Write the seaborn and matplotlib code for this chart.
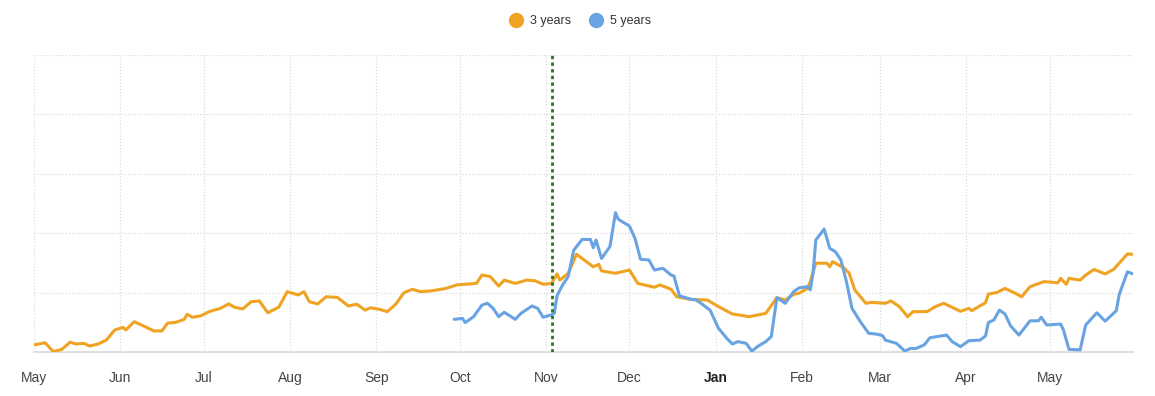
import pandas as pd
import matplotlib
matplotlib.use("Agg")
import matplotlib.pyplot as plt
import matplotlib.dates as mdates
from matplotlib.lines import Line2D
import seaborn as sns

# --- data ---
dates_3y = [
    "2022-05-01", "2022-05-05", "2022-05-08", "2022-05-11", "2022-05-14", "2022-05-16",
    "2022-05-19", "2022-05-21", "2022-05-24", "2022-05-27", "2022-05-30", "2022-06-02",
    "2022-06-03", "2022-06-06", "2022-06-10", "2022-06-13", "2022-06-16", "2022-06-18",
    "2022-06-21", "2022-06-24", "2022-06-25", "2022-06-27", "2022-06-30", "2022-07-03",
    "2022-07-07", "2022-07-10", "2022-07-12", "2022-07-15", "2022-07-18", "2022-07-21",
    "2022-07-24", "2022-07-28", "2022-07-31", "2022-08-04", "2022-08-06", "2022-08-08",
    "2022-08-11", "2022-08-14", "2022-08-18", "2022-08-22", "2022-08-25", "2022-08-28",
    "2022-08-30", "2022-09-02", "2022-09-05", "2022-09-08", "2022-09-11", "2022-09-14",
    "2022-09-17", "2022-09-21", "2022-09-26", "2022-09-30", "2022-10-03", "2022-10-07",
    "2022-10-09", "2022-10-12", "2022-10-15", "2022-10-17", "2022-10-21", "2022-10-25",
    "2022-10-28", "2022-10-31", "2022-11-03", "2022-11-05", "2022-11-06", "2022-11-09",
    "2022-11-12", "2022-11-18", "2022-11-20", "2022-11-21", "2022-11-26", "2022-12-01",
    "2022-12-04", "2022-12-10", "2022-12-12", "2022-12-16", "2022-12-18", "2022-12-23",
    "2022-12-29", "2023-01-02", "2023-01-07", "2023-01-13", "2023-01-19", "2023-01-23",
    "2023-01-26", "2023-01-29", "2023-01-31", "2023-02-03", "2023-02-04", "2023-02-06",
    "2023-02-10", "2023-02-11", "2023-02-12", "2023-02-16", "2023-02-18", "2023-02-20",
    "2023-02-24", "2023-02-26", "2023-03-03", "2023-03-05", "2023-03-08", "2023-03-11",
    "2023-03-13", "2023-03-18", "2023-03-21", "2023-03-24", "2023-03-30", "2023-04-02",
    "2023-04-03", "2023-04-08", "2023-04-09", "2023-04-12", "2023-04-15", "2023-04-18",
    "2023-04-21", "2023-04-24", "2023-04-29", "2023-05-04", "2023-05-05", "2023-05-07",
    "2023-05-08", "2023-05-12", "2023-05-14", "2023-05-17", "2023-05-21", "2023-05-24",
    "2023-05-26", "2023-05-29", "2023-05-31",
]
values_3y = [
    2.4, 3.1, 0.1, 0.9, 3.3, 2.7,
    2.9, 2.0, 2.7, 4.0, 7.4, 8.3,
    7.4, 10.2, 8.5, 7.1, 7.1, 9.7,
    10.0, 11.0, 12.7, 11.7, 12.2, 13.6,
    14.7, 16.2, 15.1, 14.5, 16.9, 17.2,
    13.2, 15.1, 20.3, 19.2, 20.3, 16.9,
    16.2, 18.6, 18.4, 15.5, 16.1, 14.1,
    14.9, 14.4, 13.6, 16.1, 20.0, 21.1,
    20.3, 20.6, 21.4, 22.6, 22.8, 23.1,
    25.9, 25.4, 22.2, 24.2, 23.1, 24.2,
    24.0, 22.8, 23.1, 26.3, 24.2, 26.5,
    32.9, 28.7, 29.5, 27.3, 26.5, 27.6,
    23.1, 21.8, 22.6, 21.1, 18.6, 17.7,
    17.5, 15.3, 12.8, 11.9, 13.0, 18.3,
    17.5, 19.4, 19.8, 21.4, 23.7, 29.9,
    29.9, 28.7, 30.4, 28.4, 26.5, 20.9,
    16.4, 16.7, 16.4, 17.2, 15.3, 11.9,
    13.6, 13.6, 15.3, 16.4, 13.7, 14.7,
    13.9, 16.6, 19.5, 20.0, 21.4, 20.1,
    18.6, 22.0, 23.7, 23.3, 24.8, 22.8,
    24.8, 24.2, 25.9, 27.8, 26.3, 27.8,
    29.9, 33.0, 32.9,
]

dates_5y = [
    "2022-09-29", "2022-10-02", "2022-10-03", "2022-10-06", "2022-10-09", "2022-10-11",
    "2022-10-13", "2022-10-15", "2022-10-17", "2022-10-21", "2022-10-23", "2022-10-27",
    "2022-10-29", "2022-10-31", "2022-11-03", "2022-11-04", "2022-11-05", "2022-11-07",
    "2022-11-09", "2022-11-11", "2022-11-14", "2022-11-17", "2022-11-18", "2022-11-19",
    "2022-11-21", "2022-11-24", "2022-11-26", "2022-11-27", "2022-12-01", "2022-12-03",
    "2022-12-05", "2022-12-08", "2022-12-10", "2022-12-13", "2022-12-16", "2022-12-17",
    "2022-12-19", "2022-12-23", "2022-12-25", "2022-12-27", "2022-12-30", "2023-01-02",
    "2023-01-05", "2023-01-07", "2023-01-09", "2023-01-12", "2023-01-14", "2023-01-16",
    "2023-01-19", "2023-01-21", "2023-01-23", "2023-01-26", "2023-01-29", "2023-01-31",
    "2023-02-03", "2023-02-04", "2023-02-05", "2023-02-06", "2023-02-09", "2023-02-11",
    "2023-02-13", "2023-02-15", "2023-02-17", "2023-02-19", "2023-02-22", "2023-02-25",
    "2023-02-28", "2023-03-02", "2023-03-03", "2023-03-07", "2023-03-10", "2023-03-12",
    "2023-03-14", "2023-03-17", "2023-03-19", "2023-03-25", "2023-03-27", "2023-03-30",
    "2023-04-02", "2023-04-06", "2023-04-08", "2023-04-09", "2023-04-11", "2023-04-13",
    "2023-04-15", "2023-04-17", "2023-04-20", "2023-04-24", "2023-04-27", "2023-04-28",
    "2023-04-30", "2023-05-05", "2023-05-06", "2023-05-08", "2023-05-12", "2023-05-14",
    "2023-05-18", "2023-05-21", "2023-05-25", "2023-05-26", "2023-05-29", "2023-05-31",
]
values_5y = [
    11.0, 11.3, 9.9, 11.9, 15.8, 16.4,
    14.7, 11.9, 13.4, 11.0, 13.0, 15.5,
    14.7, 11.7, 12.5, 13.0, 19.0, 22.6,
    25.4, 34.3, 37.9, 37.9, 35.1, 37.7,
    31.5, 35.5, 46.9, 44.7, 42.4, 38.3,
    31.2, 31.0, 27.6, 28.2, 25.9, 25.6,
    18.9, 17.8, 17.5, 16.2, 14.1, 8.0,
    4.6, 2.7, 3.5, 2.9, 0.3, 1.8,
    3.5, 5.2, 18.3, 16.4, 20.3, 21.6,
    22.0, 20.9, 26.5, 37.7, 41.4, 34.9,
    33.8, 31.0, 23.7, 14.7, 10.2, 6.3,
    6.0, 5.5, 4.0, 2.9, 0.3, 1.2,
    1.2, 2.4, 4.8, 5.7, 3.5, 1.8,
    3.8, 4.0, 5.4, 9.9, 10.8, 14.1,
    12.8, 8.8, 5.7, 10.5, 10.5, 11.7,
    9.1, 9.4, 7.4, 0.9, 0.7, 9.1,
    13.2, 10.4, 13.9, 19.2, 27.0, 26.3,
]

series_names = ["3 years", "5 years"]
series_colors = ["#F0A322", "#6AA3E2"]
marker_date = "2022-11-03"
month_ticks = pd.date_range("2022-05-01", "2023-05-01", freq="MS")

df = pd.concat([
    pd.DataFrame({"date": pd.to_datetime(dates_3y), "value": values_3y, "series": series_names[0]}),
    pd.DataFrame({"date": pd.to_datetime(dates_5y), "value": values_5y, "series": series_names[1]}),
])

sns.set_style("white")
plt.rcParams["font.family"] = ["Liberation Sans", "DejaVu Sans"]

fig = plt.figure(figsize=(11.55, 3.96), dpi=100)
ax = fig.add_axes([34 / 1155, 44 / 396, 1099 / 1155, 297 / 396])

sns.lineplot(data=df, x="date", y="value", hue="series",
             palette=dict(zip(series_names, series_colors)),
             linewidth=2.2, legend=False, ax=ax, zorder=3)

ax.axvline(pd.Timestamp(marker_date), color="#1E7B1E", linestyle=(0, (1.2, 1.2)),
           linewidth=2, zorder=4)

ax.set_xlim(pd.Timestamp("2022-05-01"), pd.Timestamp("2023-05-31"))
ax.set_ylim(0, 100)
ax.set_yticks([0, 20, 40, 60, 80, 100])
ax.set_yticklabels([])
ax.tick_params(axis="y", length=0)

ax.set_xticks(month_ticks)
ax.xaxis.set_major_formatter(mdates.DateFormatter("%b"))
ax.tick_params(axis="x", length=5, color="#e6e6e6", labelsize=10, labelcolor="#444444", pad=9)
for lbl in ax.get_xticklabels():
    if lbl.get_text() == "Jan":
        lbl.set_fontweight("bold")
        lbl.set_color("#222222")

ax.grid(True, axis="both", linestyle=(0, (1, 1.5)), color="#dcdcdc", linewidth=0.9, zorder=0)
ax.set_xlabel("")
ax.set_ylabel("")
for side in ["top", "right", "left"]:
    ax.spines[side].set_visible(False)
ax.spines["bottom"].set_color("#e0e0e0")
ax.spines["bottom"].set_linewidth(1.5)

handles = [Line2D([0], [0], marker="o", linestyle="", markersize=10,
                  markerfacecolor=c, markeredgecolor=c) for c in series_colors]
fig.legend(handles, series_names, loc="center", bbox_to_anchor=(0.5, 1 - 21 / 396),
           ncol=2, frameon=False, fontsize=9, handletextpad=0.1, columnspacing=1.0,
           labelcolor="#333333")

fig.savefig("out.png", dpi=100)
